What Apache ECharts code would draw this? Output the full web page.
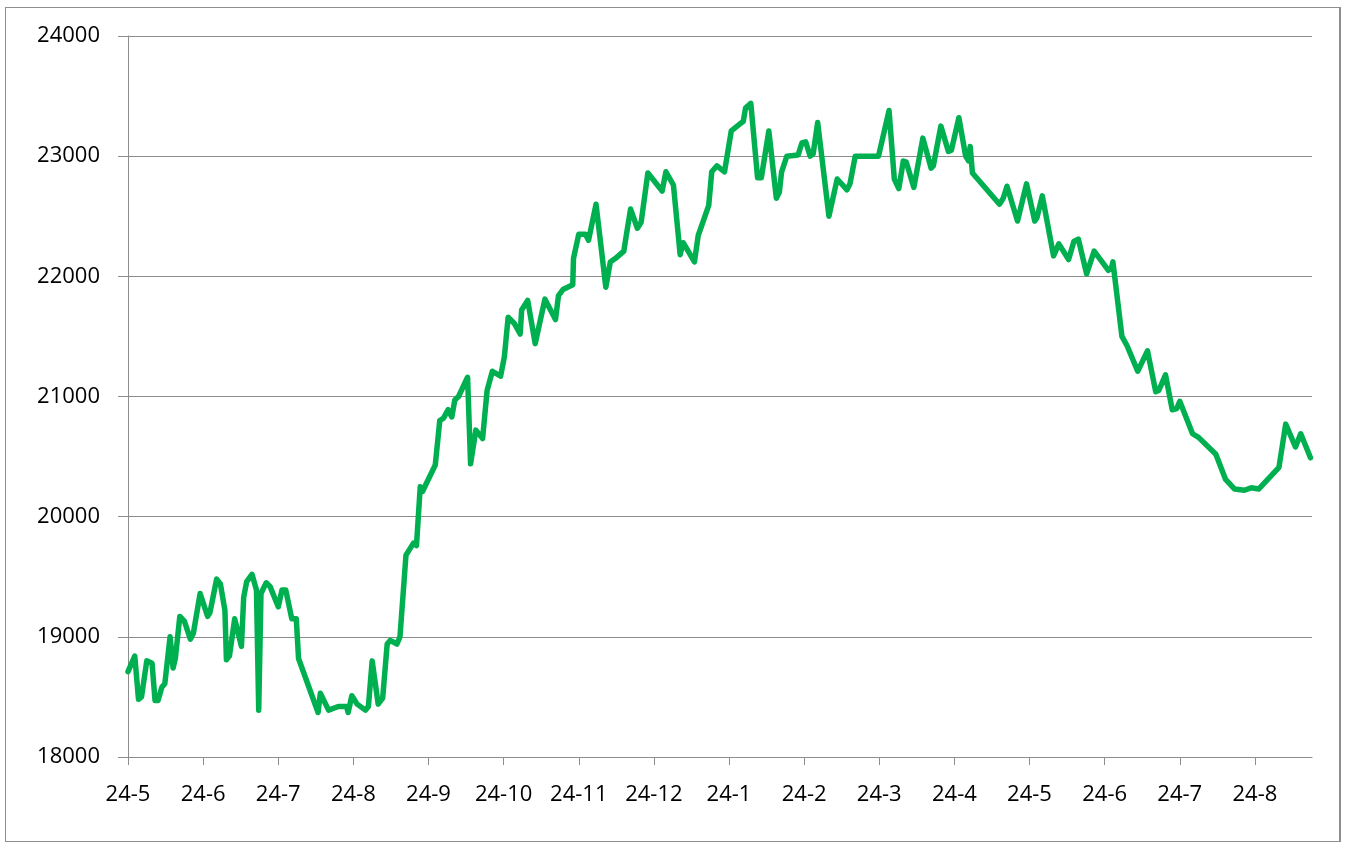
<!DOCTYPE html>
<html>
<head>
<meta charset="utf-8">
<title>chart</title>
<script src="https://cdn.jsdelivr.net/npm/echarts@6/dist/echarts.min.js"></script>
<style>
  html, body { margin: 0; padding: 0; background: #fff; }
  #frame { position: absolute; left: 5px; top: 7px; width: 1336px; height: 835px; border: 1px solid #8e8e8e; border-right-width: 2px; box-sizing: border-box; }
  #chart { position: absolute; left: 0; top: 0; width: 1351px; height: 843px; }
</style>
</head>
<body>
<div id="frame"></div>
<div id="chart"></div>
<script>
// month ticks along the x axis (one per month, starting at 0)
const monthLabels = ['24-5', '24-6', '24-7', '24-8', '24-9', '24-10', '24-11', '24-12',
  '24-1', '24-2', '24-3', '24-4', '24-5', '24-6', '24-7', '24-8'];
const yTicks = [18000, 19000, 20000, 21000, 22000, 23000, 24000];

// position of each point, in months from the first tick
const monthPos = [
  0.00, 0.09, 0.14, 0.18, 0.25, 0.32, 0.36, 0.40, 0.45, 0.49,
  0.56, 0.60, 0.63, 0.69, 0.75, 0.83, 0.87, 0.96, 1.06, 1.09,
  1.18, 1.23, 1.29, 1.31, 1.35, 1.42, 1.51, 1.54, 1.58, 1.65,
  1.71, 1.74, 1.77, 1.84, 1.89, 2.00, 2.05, 2.10, 2.18, 2.24,
  2.27, 2.53, 2.56, 2.67, 2.80, 2.91, 2.93, 2.98, 3.05, 3.16,
  3.20, 3.25, 3.33, 3.39, 3.45, 3.49, 3.58, 3.62, 3.70, 3.80,
  3.84, 3.89, 3.92, 4.09, 4.15, 4.20, 4.26, 4.31, 4.35, 4.40,
  4.52, 4.56, 4.63, 4.72, 4.78, 4.85, 4.96, 5.01, 5.06, 5.14,
  5.22, 5.24, 5.32, 5.42, 5.49, 5.55, 5.69, 5.73, 5.79, 5.92,
  5.93, 6.00, 6.09, 6.13, 6.23, 6.36, 6.42, 6.49, 6.60, 6.63,
  6.69, 6.78, 6.83, 6.92, 7.11, 7.16, 7.26, 7.35, 7.39, 7.54,
  7.59, 7.73, 7.77, 7.84, 7.94, 8.03, 8.15, 8.19, 8.22, 8.29,
  8.38, 8.43, 8.53, 8.63, 8.67, 8.70, 8.77, 8.92, 8.97, 9.02,
  9.08, 9.12, 9.18, 9.33, 9.35, 9.44, 9.57, 9.61, 9.68, 9.99,
  10.06, 10.13, 10.20, 10.26, 10.32, 10.36, 10.46, 10.58, 10.69, 10.72,
  10.82, 10.92, 10.96, 11.06, 11.15, 11.19, 11.21, 11.24, 11.60, 11.65,
  11.70, 11.84, 11.96, 12.07, 12.10, 12.17, 12.32, 12.39, 12.52, 12.59,
  12.65, 12.76, 12.86, 13.05, 13.09, 13.11, 13.23, 13.30, 13.44, 13.57,
  13.59, 13.68, 13.72, 13.81, 13.90, 13.96, 14.00, 14.17, 14.25, 14.48,
  14.61, 14.73, 14.86, 14.95, 15.05, 15.32, 15.41, 15.54, 15.61, 15.74
];
const price = [
  18710, 18840, 18480, 18500, 18800, 18780, 18470, 18470, 18580, 18610,
  19000, 18740, 18820, 19170, 19130, 18980, 19030, 19360, 19170, 19200,
  19480, 19440, 19220, 18810, 18840, 19150, 18920, 19330, 19460, 19520,
  19390, 18390, 19360, 19450, 19420, 19250, 19390, 19390, 19150, 19150,
  18820, 18370, 18530, 18390, 18420, 18420, 18370, 18510, 18440, 18390,
  18420, 18800, 18440, 18490, 18940, 18970, 18940, 19000, 19680, 19780,
  19760, 20250, 20210, 20430, 20800, 20820, 20890, 20830, 20970, 21000,
  21160, 20440, 20720, 20650, 21050, 21210, 21170, 21330, 21660, 21610,
  21520, 21720, 21800, 21440, 21640, 21810, 21640, 21840, 21890, 21930,
  22150, 22350, 22350, 22300, 22600, 21910, 22120, 22150, 22210, 22330,
  22560, 22400, 22450, 22860, 22710, 22870, 22760, 22180, 22280, 22120,
  22340, 22590, 22870, 22920, 22870, 23210, 23270, 23290, 23400, 23440,
  22820, 22820, 23210, 22650, 22700, 22870, 23000, 23010, 23110, 23120,
  23000, 23020, 23280, 22500, 22500, 22810, 22720, 22770, 23000, 23000,
  23190, 23380, 22810, 22730, 22960, 22950, 22740, 23150, 22900, 22920,
  23250, 23040, 23050, 23320, 23000, 22960, 23080, 22860, 22600, 22650,
  22750, 22460, 22770, 22460, 22490, 22670, 22170, 22270, 22140, 22290,
  22310, 22020, 22210, 22050, 22070, 22120, 21500, 21420, 21210, 21380,
  21370, 21040, 21050, 21180, 20890, 20900, 20960, 20690, 20660, 20520,
  20310, 20230, 20220, 20240, 20230, 20410, 20770, 20580, 20690, 20490
];

const AXIS_GREY = '#8c8c8c';
const FONT = '"Open Sans", Lato, sans-serif';

const chart = echarts.init(document.getElementById('chart'));
chart.setOption({
  animation: false,
  grid: { left: 128, top: 36, right: 39, bottom: 86, outerBoundsMode: 'none' },
  xAxis: {
    type: 'value',
    min: 0,
    max: 15.76,
    interval: 1,
    axisLine: { show: true, lineStyle: { color: AXIS_GREY, width: 1 } },
    axisTick: {
      show: true, length: 8, lineStyle: { color: AXIS_GREY },
      customValues: monthLabels.map((_, i) => i)
    },
    axisLabel: {
      margin: 27, fontSize: 22, color: '#000', fontFamily: FONT,
      customValues: monthLabels.map((_, i) => i),
      formatter: (v) => monthLabels[Math.round(v)] || ''
    },
    splitLine: { show: false }
  },
  yAxis: {
    type: 'value',
    min: yTicks[0],
    max: yTicks[yTicks.length - 1],
    interval: 1000,
    axisLine: { show: true, lineStyle: { color: AXIS_GREY, width: 1 } },
    axisTick: { show: true, length: 10, lineStyle: { color: AXIS_GREY } },
    axisLabel: {
      margin: 28, fontSize: 22, color: '#000', fontFamily: FONT,
      formatter: (v) => String(v)
    },
    splitLine: { show: true, lineStyle: { color: AXIS_GREY, width: 1 } }
  },
  series: [{
    type: 'line',
    data: monthPos.map((m, i) => [m, price[i]]),
    showSymbol: false,
    lineStyle: { color: '#00b050', width: 5.5, cap: 'round', join: 'round' }
  }]
});
</script>
</body>
</html>
